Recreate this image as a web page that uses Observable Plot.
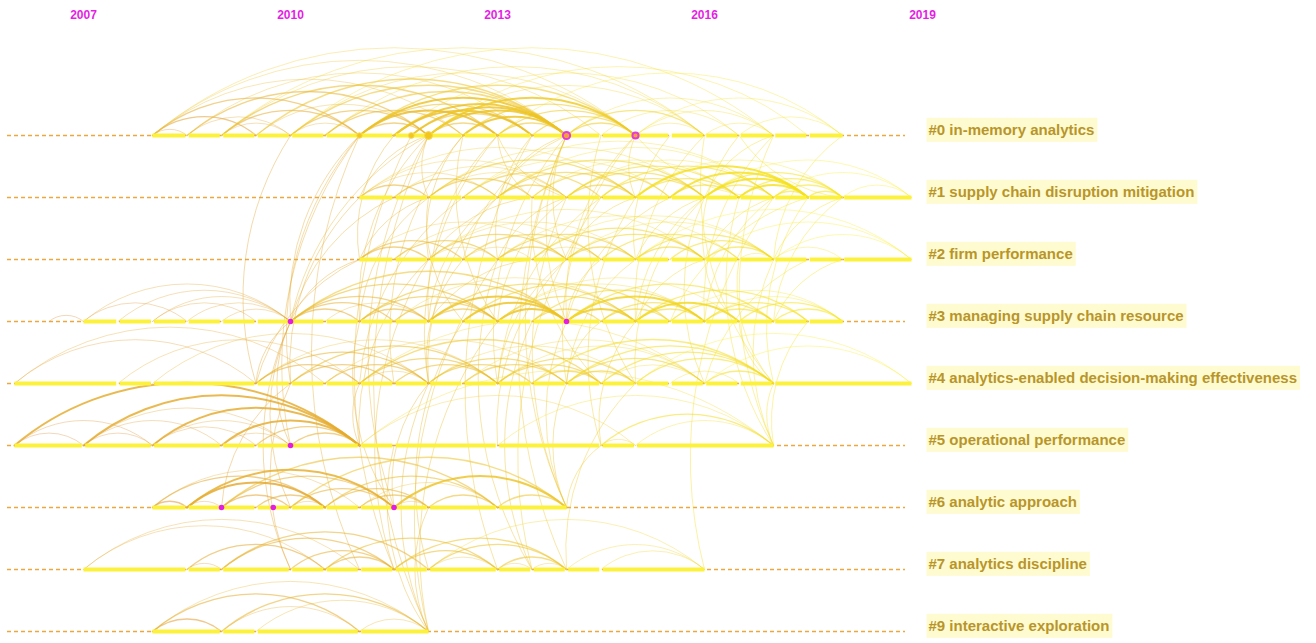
<!DOCTYPE html>
<html><head><meta charset="utf-8">
<script src="https://cdn.jsdelivr.net/npm/d3@7"></script>
<script src="https://cdn.jsdelivr.net/npm/@observablehq/plot@0.6"></script>
<style>body{margin:0;background:#fff;overflow:hidden}</style>
</head><body><div id="chart"></div>
<script>
// ---- data ----
const clusterIds = ["#0","#1","#2","#3","#4","#5","#6","#7","#9"];
const clusterNames = ["in-memory analytics","supply chain disruption mitigation","firm performance","managing supply chain resource","analytics-enabled decision-making effectiveness","operational performance","analytic approach","analytics discipline","interactive exploration"];
const clusterStart = [2008,2011,2011,2007,2006,2006,2008,2007,2008];
const clusterEnd   = [2018,2019,2019,2018,2019,2017,2014,2016,2012];
const yearTicks = [2007,2010,2013,2016];
const lastYearTick = [2019];

// within-cluster arcs [fromYear, toYear, weight]
const arcs0 = [[2008,2008.5,1],[2008,2009.5,2],[2008,2011,2],[2008,2012.5,1],[2008,2014,1],[2008,2015,1],
 [2008.5,2010,1],[2008.5,2012,2],[2008.5,2013.5,1],[2009,2010,1],[2009,2011,2],[2009,2013,2],[2009,2014.5,1],[2009,2016,1],
 [2009.5,2012,1],[2009.5,2014,2],[2010,2011,1],[2010,2012,2],[2010,2014,2],[2010,2015,1],[2010,2017,1],
 [2010.5,2012.5,2],[2010.5,2014,2],[2011,2012,2],[2011,2013,3],[2011,2014,3],[2011,2015,2],
 [2011.5,2013.5,3],[2011.5,2014,3],[2011.75,2014,3],[2012,2013,2],[2012,2014,3],[2012,2015,3],[2012,2017.5,1],
 [2012.5,2014,3],[2012.5,2015,2],[2013,2014,2],[2013,2015,2],[2013,2018,1],[2013.5,2015,2],[2014,2015,2],
 [2014,2016,2],[2014,2017,1],[2014.5,2016.5,1],[2015,2016,1],[2015,2017,1],[2015,2018,1],[2016,2017,1],[2016.5,2018,1],
 [2011,2013.5,2],[2011.75,2013.5,2],[2012,2016,1],[2010.5,2016,1],[2011.5,2016.5,1]];
const arcs1 = [[2011,2012,2],[2011,2013,1],[2011,2014,1],[2011.5,2013,2],[2012,2013.5,2],[2012,2014,1],[2012.5,2014.5,2],
 [2013,2014,2],[2013,2015,2],[2013.5,2015.5,2],[2014,2015,2],[2014,2016,2],[2014,2017,1],[2014.5,2016,2],[2015,2016.5,2],
 [2015,2017.5,3],[2015.5,2017.5,3],[2016,2017,2],[2016,2017.5,3],[2016.5,2017.5,3],[2016.5,2018,2],[2017,2017.5,2],
 [2017,2018,2],[2017.5,2018,2],[2016,2019,1],[2017,2019,1],[2012,2016,1],[2013,2017,1],[2012.5,2017,1],
 [2011,2015,1],[2011.5,2014,1],[2012,2015,2],[2012.5,2015.5,1],[2013,2016,2],[2013.5,2016.5,1],[2014,2016.5,2],
 [2014.5,2017,2],[2015,2018,1],[2015.5,2016.5,2],[2016,2018,2],[2018,2019,1]];
const arcs2 = [[2011,2012,2],[2011,2012.5,2],[2011.5,2013,2],[2012,2013,1],[2012,2014,2],[2012.5,2014.5,2],[2013,2014,2],
 [2013,2015,2],[2013.5,2014.5,1],[2013.5,2016,2],[2014,2016,2],[2014.5,2016.5,2],[2015,2016,2],[2015,2017,2],
 [2015.5,2017,2],[2016,2017,2],[2016.5,2017,1],[2017,2018,1],[2017,2019,1],[2015,2019,1],[2012,2015,1],[2014,2017,1],
 [2011,2014,1],[2011.5,2014.5,1],[2012,2016,1],[2013,2016.5,1],[2013.5,2017,1],[2014,2015,2],[2016,2019,1],[2012.5,2013.5,1]];
const arcs3 = [[2006.5,2007,1],[2007,2010,1],[2007.5,2010,1],[2008,2010,1],[2008.5,2010,1],[2009,2010,1],[2007,2008.5,1],[2008,2009.5,1],
 [2010,2011,2],[2010,2011.5,2],[2010,2012,2],[2010,2014,2],[2010.5,2012,1],[2011,2012,2],[2011,2013,2],[2011.5,2013,2],
 [2012,2013,2],[2012,2014,3],[2012.5,2014,3],[2013,2014,3],[2013,2015,2],[2013.5,2014.5,2],[2014,2015,3],[2014,2016,3],
 [2014.5,2015.5,2],[2014.5,2016,2],[2015,2016.5,3],[2015,2016,2],[2015.5,2017,2],[2016,2017,2],[2016,2017.5,2],
 [2016.5,2018,2],[2017,2018,2],[2016,2018,1],[2013,2016,1],
 [2010,2013,2],[2011,2014,2],[2011.5,2015,1],[2012,2015,2],[2012.5,2015.5,2],[2013,2016.5,1],[2013.5,2016,2],
 [2014,2017,2],[2015,2017.5,2],[2015.5,2018,1]];
const arcs4 = [[2006,2010.5,1],[2006,2009.5,1],[2007.5,2011,1],[2008,2012,1],[2009.5,2011,2],[2009.5,2012,2],[2010,2011.5,2],
 [2010.5,2012,2],[2011,2012,1],[2011,2013,2],[2011.5,2013,2],[2012,2013.5,2],[2012,2014,2],[2013,2014.5,2],[2013,2015,2],
 [2013.5,2014.5,2],[2014,2015,2],[2014,2016,2],[2014,2017,2],[2014.5,2017,2],[2015,2017,2],[2015.5,2016.5,1],[2016,2017,2],
 [2012.5,2016,1],[2011,2016,1],[2015,2019,1],
 [2009.5,2013,1],[2010,2013,2],[2010.5,2014,1],[2011,2014.5,2],[2012,2015,1],[2012.5,2014,2],[2013,2016,1],
 [2013.5,2017,2],[2014.5,2016,1],[2016,2019,1]];
const arcs5 = [[2006,2007,1],[2006,2008,1],[2006,2011,3],[2007,2008,1],[2007,2009,1],[2007,2011,3],[2007,2010,1],[2008,2009.5,1],
 [2008,2011,3],[2008,2010,1],[2009,2010,1],[2009,2011,3],[2009.5,2011,2],[2010,2011,2],[2011,2015,1],[2011,2017,1],
 [2014.5,2015,1],[2014.5,2017,2],[2015,2017,1],[2013,2017,1]];
const arcs6 = [[2008,2008.5,2],[2008,2010.5,2],[2008,2011,1],[2008.5,2009,1],[2008.5,2010.5,3],[2008.5,2011.5,3],[2009,2010,2],
 [2009,2011.5,2],[2009,2013,2],[2009.5,2010.5,2],[2010,2010.5,1],[2010,2011.5,2],[2010,2014,2],[2010.5,2012,2],[2010.5,2013,2],
 [2011,2012,2],[2011,2013,1],[2011.5,2014,3],[2012,2013,2],[2013,2014,2],[2011.5,2012,1]];
const arcs7 = [[2007,2011,1],[2007,2010.5,1],[2008.5,2010.5,2],[2008.5,2009,1],[2009,2011.5,2],[2009,2012,2],[2010,2011.5,2],
 [2010.5,2011.5,2],[2010.5,2013,2],[2011.5,2013,2],[2011.5,2014,2],[2012,2013,1],[2012,2014,2],[2013,2014,2],[2013.5,2014,1],
 [2013,2013.5,1],[2014,2016,1],[2012,2016,1],[2014.5,2016,1]];
const arcs9 = [[2008,2009,2],[2008,2011,2],[2008,2012,1],[2009,2011,1],[2009,2012,2],[2011,2012,1],[2009.5,2012,1]];
const arcLists = [arcs0,arcs1,arcs2,arcs3,arcs4,arcs5,arcs6,arcs7,arcs9];

// cross-cluster links [fromCluster, fromYear, toCluster, toYear]
const crossLinks = [
 ["#9",2012,"#6",2012],["#9",2012,"#5",2011.5],["#9",2012,"#4",2012],["#9",2012,"#3",2013],["#9",2012,"#2",2013],["#9",2012,"#0",2012],
 ["#6",2014,"#5",2014.5],["#6",2014,"#4",2014],["#6",2014,"#3",2014],["#6",2014,"#1",2014],["#6",2014,"#0",2014],
 ["#6",2011.5,"#4",2012],["#6",2011.5,"#3",2011],["#6",2011.5,"#0",2012],["#6",2010,"#3",2010],["#6",2009,"#4",2010],
 ["#7",2013.5,"#3",2013.5],["#7",2013.5,"#1",2014.5],["#7",2013.5,"#2",2013],["#7",2014,"#4",2015],["#7",2014,"#0",2014],
 ["#7",2011.5,"#2",2012],["#7",2011.5,"#0",2011.75],["#7",2012,"#3",2012.5],["#7",2010,"#3",2010],["#7",2010,"#4",2010],
 ["#7",2011,"#0",2011],["#7",2016,"#1",2017],["#7",2013,"#0",2013.5],
 ["#5",2017,"#4",2017],["#5",2017,"#3",2017.5],["#5",2017,"#2",2017],["#5",2017,"#1",2016.5],["#5",2017,"#0",2017],
 ["#5",2010,"#3",2010],["#5",2010,"#0",2011],["#5",2011,"#4",2011],["#5",2011,"#2",2012],
 ["#5",2014.5,"#3",2015],["#5",2014.5,"#1",2015],["#5",2013,"#2",2014],
 ["#4",2017,"#1",2017.5],["#4",2017,"#2",2016.5],["#4",2017,"#0",2016],["#4",2017,"#3",2016.5],
 ["#4",2009.5,"#0",2010],["#4",2009.5,"#3",2010],["#4",2009.5,"#2",2011],["#4",2010,"#1",2011],["#4",2010,"#0",2011],
 ["#4",2012,"#1",2013],["#4",2012,"#0",2013],["#4",2012,"#2",2012.5],["#4",2013,"#0",2014],["#4",2013,"#1",2014.5],
 ["#4",2013,"#2",2014],["#4",2014,"#0",2015],["#4",2014,"#2",2015],["#4",2014,"#3",2014.5],["#4",2015,"#1",2016],["#4",2015,"#0",2014.5],
 ["#4",2011,"#1",2012.5],["#4",2011.5,"#0",2012.5],["#4",2016,"#1",2016],["#4",2016,"#2",2017.5],["#4",2014.5,"#1",2013.5],
 ["#3",2010,"#0",2011],["#3",2010,"#0",2012],["#3",2010,"#1",2011.5],["#3",2010,"#2",2011],["#3",2011,"#0",2012],["#3",2011,"#1",2012],
 ["#3",2012,"#0",2013],["#3",2012,"#2",2013.5],["#3",2012,"#1",2013],["#3",2014,"#0",2014],["#3",2014,"#0",2015],
 ["#3",2014,"#1",2015.5],["#3",2014,"#2",2014.5],["#3",2015,"#0",2016],["#3",2015,"#1",2016],["#3",2015,"#2",2016],
 ["#3",2016,"#1",2017],["#3",2016,"#0",2017],["#3",2017,"#1",2018],["#3",2017,"#2",2018],
 ["#3",2013,"#1",2014],["#3",2013,"#0",2012.5],["#3",2015.5,"#1",2017.5],["#3",2016.5,"#2",2016],["#3",2012.5,"#1",2012],
 ["#2",2011,"#0",2011.5],["#2",2011,"#1",2012],["#2",2012,"#0",2012.5],["#2",2012,"#1",2013.5],["#2",2013,"#0",2013.5],
 ["#2",2013,"#1",2014],["#2",2014,"#0",2014],["#2",2014,"#1",2015],["#2",2015,"#0",2015.5],["#2",2015,"#1",2016],
 ["#2",2016,"#1",2017],["#2",2016,"#0",2016.5],["#2",2017,"#1",2018],["#2",2017,"#0",2018],["#2",2012.5,"#0",2014],
 ["#1",2012,"#0",2012],["#1",2013,"#0",2014],["#1",2015,"#0",2015],["#1",2016,"#0",2017],["#1",2014,"#0",2013],
 ["#1",2011,"#0",2012],["#1",2017,"#0",2015],["#1",2018,"#0",2016.5],["#1",2013.5,"#0",2013]];

// highlighted nodes
const burstNodes = [["#3",2010],["#3",2014],["#5",2010],["#6",2009],["#6",2009.75],["#6",2011.5]];
const ringNodes = [["#0",2014,5.5],["#0",2015,4]];
const bigNodes = [["#0",2011,3],["#0",2011.75,3.5],["#0",2012,6.5]];

// ---- derived tables ----
const arcRows = [];
arcLists.forEach((list, i) => list.forEach(([a, b, w]) => arcRows.push({c: clusterIds[i], x1: a, x2: b, w})));
const crossRows = crossLinks.map(([c1, a, c2, b]) => ({c1, x1: a, c2, x2: b}));

const segRows = [];
clusterIds.forEach((c, i) => {
  const s = clusterStart[i], e = clusterEnd[i];
  const pts = new Set([s, e]);
  arcRows.filter(r => r.c === c).forEach(r => { pts.add(r.x1); pts.add(r.x2); });
  crossRows.forEach(r => { if (r.c1 === c) pts.add(r.x1); if (r.c2 === c) pts.add(r.x2); });
  const sorted = [...pts].filter(p => p >= s && p <= e).sort((a, b) => a - b);
  for (let k = 0; k < sorted.length - 1; k++) {
    const g = 0.025;
    segRows.push({c, x1: sorted[k] + (k === 0 ? 0 : g), x2: sorted[k + 1] - (k === sorted.length - 2 ? 0 : g)});
  }
});

const op = [0, 0.34, 0.55, 0.82];
const sw = [0, 1, 1.4, 2];
const yearStyle = {frameAnchor: "top", dy: 15, lineAnchor: "middle", text: d => String(d), fill: "#e41ee4",
  fontWeight: "bold", fontSize: 12, fontFamily: "Liberation Sans, Arial, sans-serif"};

const chart = Plot.plot({
  width: 1316, height: 643,
  marginLeft: 7, marginRight: 411, marginTop: 0, marginBottom: 0,
  style: {background: "#ffffff", overflow: "visible"},
  x: {domain: [2006, 2019], range: [14, 911], axis: null},
  y: {type: "point", domain: clusterIds, range: [135, 631], padding: 0, axis: null},
  color: {type: "linear", domain: [2007, 2018], range: ["#dc8a35", "#f6e41c"]},
  marks: [
    Plot.ruleY(clusterIds, {y: d => d, stroke: "#eaa83e", strokeWidth: 1.5, strokeDasharray: "4,3"}),
    Plot.arrow(crossRows, {x1: "x1", y1: "c1", x2: "x2", y2: "c2", bend: 25, headLength: 0,
      stroke: d => Math.max(d.x1, d.x2), strokeOpacity: 0.4, strokeWidth: 1}),
    Plot.arrow(arcRows, {x1: "x1", y1: "c", x2: "x2", y2: "c", bend: 40, headLength: 0,
      stroke: "x2", strokeOpacity: d => op[d.w], strokeWidth: d => sw[d.w]}),
    Plot.link(segRows, {x1: "x1", x2: "x2", y1: "c", y2: "c", stroke: "#fcf23c", strokeWidth: 4}),
    Plot.dot(bigNodes, {x: d => d[1], y: d => d[0], r: d => d[2], fill: "#f3c61e", stroke: "#f6d84a", strokeWidth: 1}),
    Plot.dot(ringNodes, {x: d => d[1], y: d => d[0], r: d => d[2], fill: "#f2a23a", stroke: "#e43ad8", strokeWidth: 2}),
    Plot.dot(burstNodes, {x: d => d[1], y: d => d[0], r: 2.8, fill: "#e41ee0"}),
    Plot.text(yearTicks, {x: d => d, ...yearStyle}),
    Plot.text(lastYearTick, {x: d => d, dx: 11, ...yearStyle}),
    Plot.text(clusterIds, {y: d => d, frameAnchor: "right", dx: 23, dy: -5, textAnchor: "start",
      text: (d, i) => d + " " + clusterNames[i], fill: "#b8952a", fontWeight: "bold", fontSize: 15,
      fontFamily: "Liberation Sans, Arial, sans-serif"})
  ]
});
document.getElementById("chart").appendChild(chart);

// light-yellow label backgrounds sized from the rendered text
d3.select(chart).selectAll("text").filter(function () { return this.textContent.startsWith("#"); })
  .each(function () {
    const bb = this.getBBox();
    d3.select(this.parentNode).insert("rect", () => this)
      .attr("x", bb.x - 2).attr("y", bb.y + bb.height / 2 - 12)
      .attr("width", bb.width + 5).attr("height", 24)
      .attr("fill", "#fffbd0")
      .attr("transform", this.getAttribute("transform"));
  });
</script>
</body></html>
